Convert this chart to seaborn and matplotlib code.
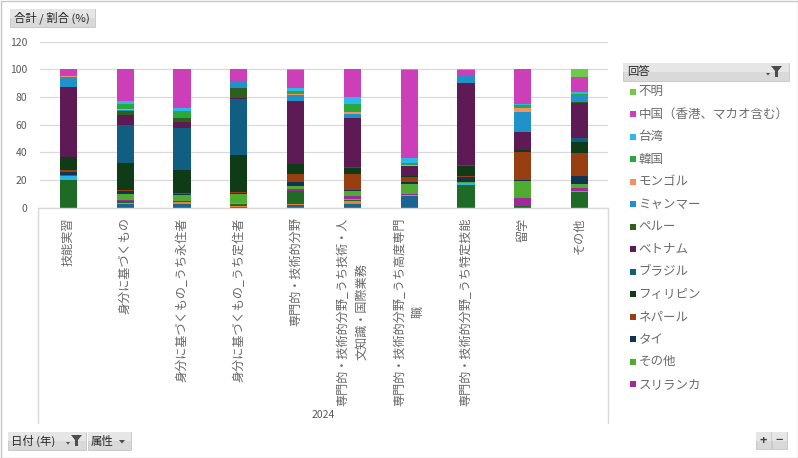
import numpy as np
import pandas as pd
import seaborn as sns
import matplotlib
matplotlib.use("Agg")
import matplotlib.pyplot as plt
from matplotlib.patches import Rectangle, Polygon
from matplotlib.lines import Line2D

# ---------------- data ----------------
categories = ["技能実習", "身分に基づくもの", "身分に基づくもの_うち永住者",
              "身分に基づくもの_うち定住者", "専門的・技術的分野",
              "専門的・技術的分野_うち技術・人文知識・国際業務",
              "専門的・技術的分野_うち高度専門職",
              "専門的・技術的分野_うち特定技能", "留学", "その他"]
tick_labels = ["技能実習", "身分に基づくもの", "身分に基づくもの_うち永住者",
               "身分に基づくもの_うち定住者", "専門的・技術的分野",
               "専門的・技術的分野_うち技術・人\n文知識・国際業務",
               "専門的・技術的分野_うち高度専門\n職",
               "専門的・技術的分野_うち特定技能", "留学", "その他"]
year_label = "2024"

# series values (%), bottom of stack first
america   = [0.0, 3.0, 3.0, 0.2, 1.9, 2.4, 8.2, 0.3, 0.0, 0.0]
india     = [0.0, 0.5, 1.0, 0.8, 1.0, 2.4, 1.0, 0.2, 0.0, 0.0]
indonesia = [20.3, 1.0, 0.5, 2.0, 9.2, 1.0, 0.0, 15.7, 1.2, 11.4]
cambodia  = [2.9, 0.3, 0.2, 0.2, 0.3, 0.3, 0.0, 1.5, 0.0, 1.0]
srilanka  = [0.3, 0.5, 0.3, 0.2, 1.1, 2.0, 0.5, 0.3, 5.8, 1.5]
sonota    = [0.5, 4.3, 3.9, 6.8, 2.4, 4.3, 7.7, 0.3, 12.1, 2.9]
thai      = [2.0, 2.5, 1.0, 0.3, 2.5, 0.5, 1.0, 3.9, 1.0, 6.3]
nepal     = [1.2, 1.0, 1.0, 0.5, 6.2, 11.6, 3.9, 0.5, 20.3, 16.5]
philippines = [9.2, 19.0, 16.4, 27.0, 6.8, 4.3, 0.3, 7.7, 1.5, 7.7]
brazil    = [0.0, 27.5, 30.4, 40.6, 0.4, 0.5, 0.0, 0.2, 0.0, 2.9]
vietnam   = [51.2, 7.2, 4.3, 0.5, 45.0, 35.3, 7.3, 59.5, 13.1, 25.5]
peru      = [0.0, 3.0, 3.0, 7.2, 0.2, 0.0, 0.3, 0.0, 0.0, 0.5]
myanmar   = [6.8, 1.0, 0.5, 4.3, 4.2, 3.4, 0.2, 5.8, 14.5, 4.8]
mongol    = [0.8, 0.3, 0.2, 0.2, 1.2, 1.0, 0.2, 0.0, 2.4, 0.0]
korea     = [0.0, 3.8, 4.3, 0.5, 1.9, 5.8, 1.5, 0.0, 2.4, 1.0]
taiwan    = [0.0, 2.0, 2.4, 0.6, 2.4, 5.3, 3.9, 0.0, 0.5, 1.5]
china     = [4.8, 23.1, 27.6, 8.1, 12.8, 19.9, 63.7, 3.8, 25.2, 10.7]
fumei     = [0.0, 0.0, 0.0, 0.0, 0.5, 0.0, 0.3, 0.3, 0.0, 5.8]

series_names = ["アメリカ", "インド", "インドネシア", "カンボジア", "スリランカ", "その他",
                "タイ", "ネパール", "フィリピン", "ブラジル", "ベトナム", "ペルー",
                "ミャンマー", "モンゴル", "韓国", "台湾", "中国（香港、マカオ含む）", "不明"]
series_values = [america, india, indonesia, cambodia, srilanka, sonota, thai, nepal,
                 philippines, brazil, vietnam, peru, myanmar, mongol, korea, taiwan,
                 china, fumei]
series_colors = ["#1b6590", "#ee7d35", "#1d6b25", "#2ab5e8", "#a02a98", "#4fab31",
                 "#0f3550", "#983f12", "#0f3b16", "#105e82", "#5e1a55", "#2f5f1f",
                 "#2191c9", "#f2925e", "#2aa83c", "#2bb9ec", "#cc3fb8", "#6ccc4a"]
legend_shown = ["不明", "中国（香港、マカオ含む）", "台湾", "韓国", "モンゴル", "ミャンマー",
                "ペルー", "ベトナム", "ブラジル", "フィリピン", "ネパール", "タイ",
                "その他", "スリランカ"]

# ---------------- figure ----------------
sns.set_theme(style="white")
plt.rcParams["font.family"] = ["Noto Sans CJK JP", "DejaVu Sans"]

W, H = 798, 458
fig = plt.figure(figsize=(W / 100, H / 100), dpi=100)
fig.patch.set_facecolor("white")


def P(x, y):
    return (x / W, 1 - y / H)


ax = fig.add_axes([40 / W, 1 - 207.7 / H, 568 / W, 166.0 / H])
ax.set_facecolor("white")

bottoms = np.zeros(len(categories))
for name, vals, col in zip(series_names, series_values, series_colors):
    sns.barplot(x=categories, y=vals, bottom=bottoms.copy(), color=col, width=0.3,
                saturation=1, errorbar=None, linewidth=0, ax=ax, order=categories)
    bottoms = bottoms + np.array(vals)

ax.set_ylim(0, 120)
ax.set_xlim(-0.5, len(categories) - 0.5)
ax.set_yticks(np.arange(0, 121, 20))
ax.yaxis.grid(True, color="#d9d9d9", linewidth=0.9)
ax.set_axisbelow(True)
for s in ax.spines.values():
    s.set_visible(False)
ax.set_xlabel("")
ax.set_ylabel("")
ax.tick_params(axis="y", length=0, pad=9, labelsize=7.5, labelcolor="#595959")
ax.set_xticks(range(len(categories)))
ax.set_xticklabels(tick_labels, rotation=90, ha="center", va="top",
                   multialignment="center", linespacing=1.5)
ax.tick_params(axis="x", length=0, pad=7, labelsize=8.7, labelcolor="#666666")

# category box lines
line_c = "#d9d9d9"
fig.add_artist(Line2D([38 / W, 608 / W], [1 - 208 / H] * 2, color=line_c, lw=1,
                      transform=fig.transFigure))
for xx in (38, 608):
    fig.add_artist(Line2D([xx / W] * 2, [1 - 208 / H, 1 - 423 / H], color=line_c, lw=1,
                          transform=fig.transFigure))
fig.text(*P(323, 415), year_label, ha="center", va="center", fontsize=7.5,
         color="#595959")

# ---------------- legend (manual) ----------------
color_map = dict(zip(series_names, series_colors))
for i, name in enumerate(legend_shown):
    yc = 91.7 + 22.5 * i
    fig.add_artist(Rectangle(P(629.5, yc + 3), 6 / W, 6 / H, transform=fig.transFigure,
                             facecolor=color_map[name], edgecolor="none"))
    fig.text(*P(638.5, yc), name, ha="left", va="center", fontsize=9.0,
             color="#6b6b6b")

# ---------------- buttons ----------------
def button(x0, y0, x1, y1, text=None, tx=None, fs=8.2):
    fig.add_artist(Rectangle(P(x0, y1), (x1 - x0) / W, (y1 - y0) / H,
                             transform=fig.transFigure, facecolor="#d9d9d9",
                             edgecolor="#c4c4c4", lw=0.6))
    fig.add_artist(Rectangle(P(x0, (y0 + y1) / 2), (x1 - x0) / W, (y1 - y0) / 2 / H,
                             transform=fig.transFigure, facecolor="#e6e6e6",
                             edgecolor="none"))
    if text is not None:
        fig.text(*P(tx if tx is not None else x0 + 4, (y0 + y1) / 2), text,
                 ha="left", va="center", fontsize=fs, color="#262626")


def funnel(x, y):
    pts = [P(x, y), P(x + 11, y), P(x + 7, y + 5), P(x + 7, y + 11), P(x + 4, y + 11),
           P(x + 4, y + 5)]
    fig.add_artist(Polygon(pts, closed=True, transform=fig.transFigure,
                           facecolor="#4d4d4d", edgecolor="none"))
    pts2 = [P(x - 5, y + 7), P(x - 1, y + 7), P(x - 3, y + 9.5)]
    fig.add_artist(Polygon(pts2, closed=True, transform=fig.transFigure,
                           facecolor="#4d4d4d", edgecolor="none"))


def dropdown(x, y):
    pts = [P(x, y), P(x + 6, y), P(x + 3, y + 3.5)]
    fig.add_artist(Polygon(pts, closed=True, transform=fig.transFigure,
                           facecolor="#4d4d4d", edgecolor="none"))


button(10, 9, 95, 27, "合計 / 割合 (%)", tx=14)
button(623, 63, 789, 81, "回答", tx=627)
funnel(771, 66)
button(8, 432, 86, 450, "日付 (年)", tx=11)
funnel(71, 435)
button(88, 432, 131, 450, "属性", tx=91)
dropdown(119, 440)
button(756, 432, 771, 449)
button(772, 432, 787, 449)
fig.text(*P(763.5, 440.5), "+", ha="center", va="center", fontsize=9, color="#404040",
         fontweight="bold")
fig.text(*P(779.5, 440.5), "−", ha="center", va="center", fontsize=9, color="#404040",
         fontweight="bold")

# outer border
fig.add_artist(Rectangle((0.5 / W, 0.5 / H), 797 / W, 457 / H, transform=fig.transFigure,
                         fill=False, edgecolor="#c8c8c8", lw=1))

fig.savefig("out.png", dpi=100, facecolor="white")
